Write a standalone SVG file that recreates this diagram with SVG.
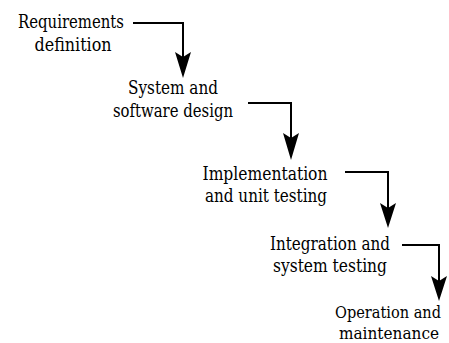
<svg xmlns="http://www.w3.org/2000/svg" width="449" height="343" viewBox="0 0 449 343">
<defs>
<style>
.t text{font-family:"DejaVu Serif Condensed","DejaVu Serif",serif;font-stretch:condensed;font-size:18px;fill:#000;text-anchor:middle}
#n5 text{font-size:17px}
.c{fill:none;stroke:#000;stroke-width:2}
.h{fill:#000}
</style>
</defs>
<rect width="449" height="343" fill="#fff"/>
<g class="t">
<g id="n1"><text x="71" y="28" textLength="106" lengthAdjust="spacingAndGlyphs">Requirements</text><text x="73" y="51" textLength="77" lengthAdjust="spacingAndGlyphs">definition</text></g>
<g id="n2"><text x="173" y="94" textLength="90" lengthAdjust="spacingAndGlyphs">System and</text><text x="173" y="117" textLength="120" lengthAdjust="spacingAndGlyphs">software design</text></g>
<g id="n3"><text x="265" y="180" textLength="125" lengthAdjust="spacingAndGlyphs">Implementation</text><text x="266" y="202" textLength="122" lengthAdjust="spacingAndGlyphs">and unit testing</text></g>
<g id="n4"><text x="330" y="250" textLength="120" lengthAdjust="spacingAndGlyphs">Integration and</text><text x="330" y="272" textLength="114" lengthAdjust="spacingAndGlyphs">system testing</text></g>
<g id="n5"><text x="388" y="318" textLength="106" lengthAdjust="spacingAndGlyphs">Operation and</text><text x="389" y="339" textLength="100" lengthAdjust="spacingAndGlyphs">maintenance</text></g>
</g>
<g id="connectors">
<path class="c" d="M133 23H183V58"/>
<polygon class="h" points="175,52 183,57 191,52 183,78"/>
<path class="c" d="M248 103H291V138"/>
<polygon class="h" points="283,133 291,138 299,133 291,160"/>
<path class="c" d="M345 172H388V208"/>
<polygon class="h" points="380,203 388,208 396,203 388,228"/>
<path class="c" d="M402 245H439V281"/>
<polygon class="h" points="431,276 439,281 447,276 439,301"/>
</g>
</svg>
